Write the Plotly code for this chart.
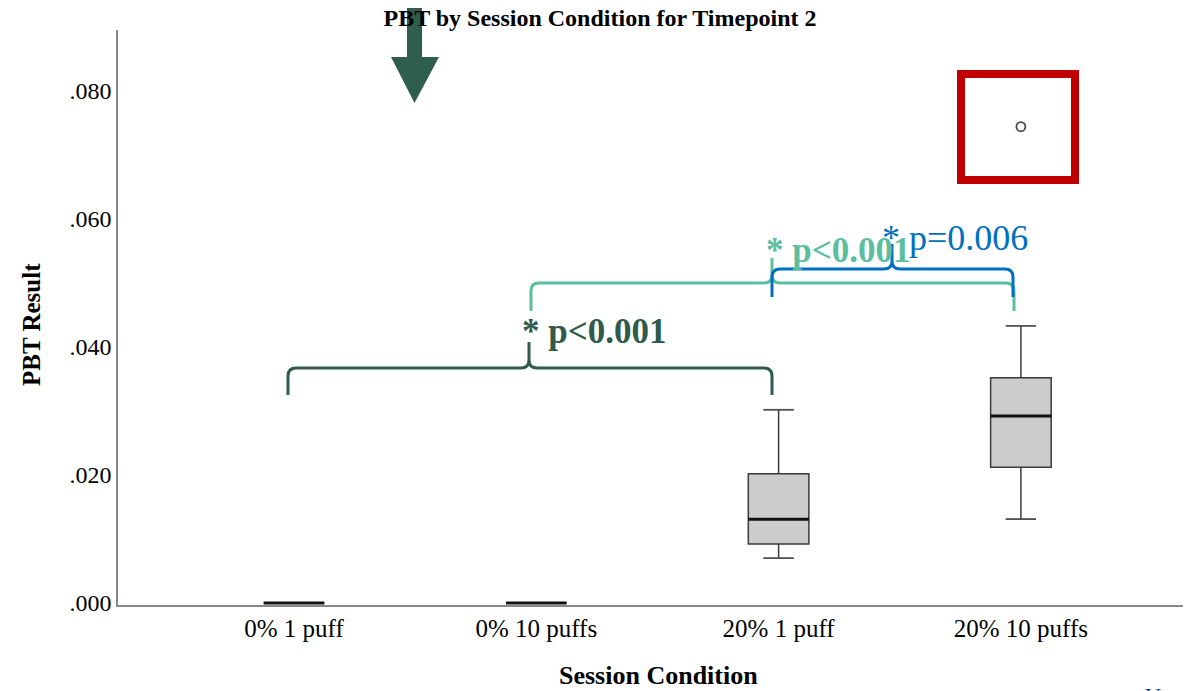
import plotly.graph_objects as go

# ---------------- data ----------------
categories = ["0% 1 puff", "0% 10 puffs", "20% 1 puff", "20% 10 puffs"]
lower_whisker = [0.0, 0.0, 0.0070, 0.0131]
q1 = [0.0, 0.0, 0.0092, 0.0212]
median = [0.0, 0.0, 0.0131, 0.0292]
q3 = [0.0, 0.0, 0.0202, 0.0352]
upper_whisker = [0.0, 0.0, 0.0302, 0.0433]
outlier_cat = [3]
outlier_val = [0.0744]
ytick_vals = [0.0, 0.02, 0.04, 0.06, 0.08]
ytick_text = [".000", ".020", ".040", ".060", ".080"]

# page offset (body margin) compensation
OFF = 8
SW, SH = 1191, 691                   # screen size
YMIN, YMAX = -0.0003125, 0.0895      # y range (tiny negative pad so zero-height boxes show)
PL, PT, PR, PB = 118, 30, 1191, 605  # plot area in screen pixels
W, H = SW - OFF, SH - OFF
L, T = PL - OFF, PT - OFF
R, B = 0, SH - PB
PW, PH = PR - PL, PB - PT
SERIF = "Liberation Serif"

def px(x):
    return (x - PL) / PW

def py(y):
    return (PB - y) / PH

def pt(x, y):
    return f"{px(x):.5f},{py(y):.5f}"

xs = list(range(len(categories)))
BOXW = 0.25
CAPW = 0.062

fig = go.Figure()
fig.add_trace(go.Box(
    x=xs, q1=q1, median=median, q3=q3,
    lowerfence=lower_whisker, upperfence=upper_whisker,
    width=BOXW, fillcolor="#CCCCCC",
    line=dict(color="#3a3a3a", width=1.5),
    boxpoints=False, showlegend=False, hoverinfo="skip",
))
for i in xs:
    if upper_whisker[i] > q3[i]:
        fig.add_trace(go.Scatter(x=[i - CAPW, i + CAPW], y=[upper_whisker[i]] * 2, mode="lines",
                                 line=dict(color="#555555", width=1.5), showlegend=False, hoverinfo="skip"))
    if lower_whisker[i] < q1[i]:
        fig.add_trace(go.Scatter(x=[i - CAPW, i + CAPW], y=[lower_whisker[i]] * 2, mode="lines",
                                 line=dict(color="#555555", width=1.5), showlegend=False, hoverinfo="skip"))
    fig.add_trace(go.Scatter(x=[i - BOXW / 2, i + BOXW / 2], y=[median[i]] * 2, mode="lines",
                             line=dict(color="#111111", width=3), showlegend=False, hoverinfo="skip"))
fig.add_trace(go.Scatter(
    x=outlier_cat, y=outlier_val, mode="markers",
    marker=dict(symbol="circle-open", size=9, color="#4a4a4a", line=dict(width=1.8)),
    showlegend=False, hoverinfo="skip",
))

# ---------------- overlay annotations (braces, arrow, box) ----------------
def brace(x0, x1, xm, yh, yb, yt, r=8):
    return (f"M {pt(x0, yb)} L {pt(x0, yh + r)} Q {pt(x0, yh)} {pt(x0 + r, yh)} "
            f"L {pt(xm - r, yh)} Q {pt(xm, yh)} {pt(xm, yh - r)} L {pt(xm, yt)} "
            f"M {pt(xm, yh - r)} Q {pt(xm, yh)} {pt(xm + r, yh)} "
            f"L {pt(x1 - r, yh)} Q {pt(x1, yh)} {pt(x1, yh + r)} L {pt(x1, yb)}")

DARK = "#2E5B4B"
TEAL = "#5BBF9F"
BLUE = "#0070C0"

shapes = [
    dict(type="path", path=brace(288, 772, 529, 368, 395, 342), xref="paper", yref="paper",
         line=dict(color=DARK, width=3), layer="above"),
    dict(type="path", path=brace(531, 1014, 772, 283, 311, 258), xref="paper", yref="paper",
         line=dict(color=TEAL, width=3), layer="above"),
    dict(type="path", path=brace(772, 1013, 892, 269, 297, 244), xref="paper", yref="paper",
         line=dict(color=BLUE, width=3), layer="above"),
    dict(type="path",
         path=(f"M {pt(407, -5)} L {pt(422, -5)} L {pt(422, 57)} L {pt(439, 57)} "
               f"L {pt(414.5, 103)} L {pt(391, 57)} L {pt(407, 57)} Z"),
         xref="paper", yref="paper", fillcolor="#2F5E4E", line=dict(width=0), layer="above"),
    dict(type="rect", x0=px(961), x1=px(1075), y0=py(74), y1=py(180), xref="paper", yref="paper",
         line=dict(color="#C00000", width=8), layer="above"),
]

annotations = [
    dict(text="* p<0.001", x=px(520), y=py(331), xref="paper", yref="paper", xanchor="left",
         yanchor="middle", showarrow=False, font=dict(family=SERIF, size=35, color=DARK, weight="bold")),
    dict(text="* p<0.001", x=px(764), y=py(250), xref="paper", yref="paper", xanchor="left",
         yanchor="middle", showarrow=False, font=dict(family=SERIF, size=35, color=TEAL, weight="bold")),
    dict(text="* p=0.006", x=px(880), y=py(238), xref="paper", yref="paper", xanchor="left",
         yanchor="middle", showarrow=False, font=dict(family=SERIF, size=36, color=BLUE)),
    dict(text="PBT Result", x=px(32), y=py(325), xref="paper", yref="paper", textangle=-90,
         xanchor="center", yanchor="middle", showarrow=False,
         font=dict(family=SERIF, size=25, color="#000000", weight="bold")),
    dict(text="Session Condition", x=px(658), y=py(675), xref="paper", yref="paper",
         xanchor="center", yanchor="middle", showarrow=False,
         font=dict(family=SERIF, size=26, color="#000000", weight="bold")),
    dict(text="V", x=px(1153), y=py(681), xref="paper", yref="paper",
         xanchor="center", yanchor="top", showarrow=False,
         font=dict(family=SERIF, size=22, color="#1F3C88")),
]

fig.update_layout(
    width=W, height=H,
    margin=dict(l=L, r=R, t=T, b=B, pad=0),
    paper_bgcolor="white", plot_bgcolor="white",
    title=dict(text="PBT by Session Condition for Timepoint 2", x=(600 - OFF) / W, xanchor="center",
               y=1 - (18 - OFF) / H, yanchor="middle", xref="container", yref="container",
               font=dict(family=SERIF, size=24, color="#000000", weight="bold")),
    xaxis=dict(range=[(PL - 294) / 242.3, (PR - 294) / 242.3], tickmode="array", tickvals=xs,
               ticktext=categories, showgrid=False, zeroline=False, showline=True,
               linecolor="#888888", linewidth=1.5, ticks="", layer="below traces",
               tickfont=dict(family=SERIF, size=25, color="#000000")),
    yaxis=dict(range=[YMIN, YMAX], tickmode="array", tickvals=ytick_vals, ticktext=ytick_text,
               showgrid=False, zeroline=False, showline=True, linecolor="#888888", linewidth=1.5,
               ticks="", layer="below traces", tickfont=dict(family=SERIF, size=24, color="#000000")),
    shapes=shapes, annotations=annotations,
)

fig.write_html("out.html")
